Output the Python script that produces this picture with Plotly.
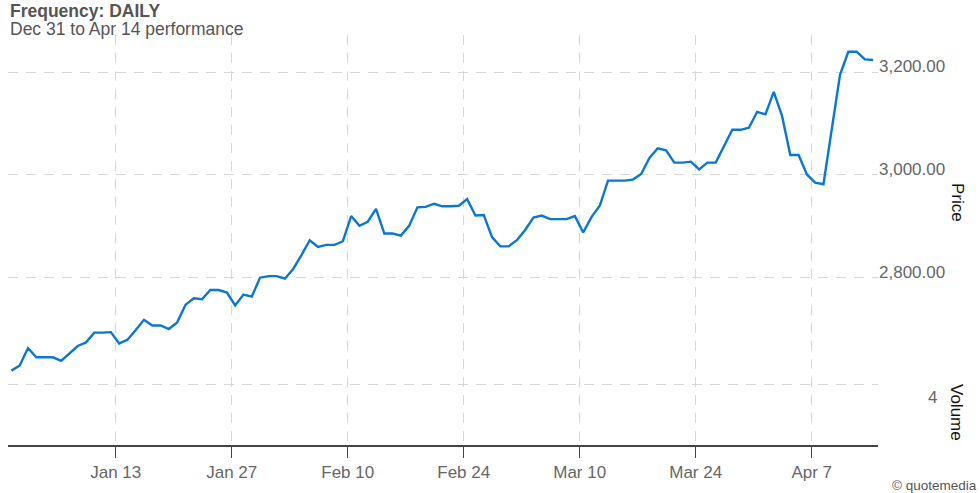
import pandas as pd
import plotly.graph_objects as go

start_date = "2024-12-31 10:00"
prices = [
    2619, 2629, 2663, 2645, 2645, 2645, 2638, 2653, 2667, 2674,
    2693, 2693, 2694, 2672, 2679, 2698, 2718, 2707, 2707, 2700,
    2713, 2747, 2760, 2758, 2776, 2776, 2771, 2746, 2767, 2763,
    2800, 2803, 2803, 2798, 2817, 2844, 2873, 2860, 2864, 2864,
    2871, 2920, 2901, 2909, 2934, 2886, 2886, 2882, 2901, 2937,
    2938, 2944, 2939, 2939, 2940, 2953, 2921, 2922, 2879, 2861,
    2861, 2873, 2893, 2917, 2921, 2914, 2914, 2914, 2920, 2888,
    2918, 2940, 2989, 2989, 2989, 2991, 3002, 3033, 3052, 3048,
    3024, 3024, 3026, 3011, 3024, 3024, 3056, 3088, 3088, 3092,
    3123, 3118, 3162, 3115, 3039, 3039, 3001, 2985, 2982, 3090,
    3195, 3240, 3240, 3225, 3224,
]
dates = pd.date_range(start_date, periods=len(prices), freq="D")

x_tick_dates = ["2025-01-13", "2025-01-27", "2025-02-10", "2025-02-24",
                "2025-03-10", "2025-03-24", "2025-04-07"]
x_tick_labels = ["Jan 13", "Jan 27", "Feb 10", "Feb 24", "Mar 10", "Mar 24", "Apr 7"]
price_ticks = [2800, 3000, 3200]
volume_ticks = [4]
volume_tick_labels = ["4"]

GRID = "#d6d6d6"
LABEL = "#666666"
FONT = "Liberation Sans, Arial, sans-serif"

fig = go.Figure()
fig.add_trace(go.Scatter(
    x=dates, y=prices, mode="lines",
    line=dict(color="#0a77d3", width=2.4),
    yaxis="y", showlegend=False, hoverinfo="x+y",
))
fig.add_trace(go.Scatter(x=[], y=[], yaxis="y2", showlegend=False))

fig.update_layout(
    width=980, height=493,
    margin=dict(l=8, r=102, t=35, b=48),
    plot_bgcolor="white", paper_bgcolor="white",
    font=dict(family=FONT, color=LABEL, size=17),
    showlegend=False,
    xaxis=dict(
        range=["2024-12-31", "2025-04-15"],
        tickvals=x_tick_dates, ticktext=x_tick_labels,
        showgrid=True, gridcolor=GRID, griddash="10px,8px", gridwidth=1.3,
        showline=True, linecolor="#444444", linewidth=1.5,
        ticks="outside", ticklen=11, tickcolor="#444444", tickwidth=1.3,
        tickfont=dict(size=17, color=LABEL),
        zeroline=False, fixedrange=True,
    ),
    yaxis=dict(
        range=[2474.2, 3272.6], side="right",
        tickvals=price_ticks, tickformat=",.2f",
        showgrid=True, gridcolor=GRID, griddash="10px,8px", gridwidth=1.3,
        showline=False, zeroline=False, ticks="",
        ticklabelshift=-6, ticklabelstandoff=0,
        tickfont=dict(size=17, color=LABEL),
    ),
    yaxis2=dict(
        overlaying="y", side="right", range=[0, 26.9],
        tickvals=volume_ticks, ticktext=volume_tick_labels,
        showgrid=True, gridcolor=GRID, griddash="10px,8px", gridwidth=1.3,
        showline=False, zeroline=False, ticks="",
        ticklabelshift=13, ticklabelstandoff=49,
        tickfont=dict(size=17, color=LABEL),
    ),
    annotations=[
        dict(text="<b>Frequency: DAILY</b>", xref="paper", yref="paper",
             x=0, y=1 + 24 / 410, xanchor="left", yanchor="middle",
             showarrow=False, font=dict(size=17.5, color="#555555")),
        dict(text="Dec 31 to Apr 14 performance", xref="paper", yref="paper",
             x=0, y=1 + 6 / 410, xanchor="left", yanchor="middle",
             showarrow=False, font=dict(size=17.5, color="#555555")),
        dict(text="Price", xref="paper", yref="paper",
             x=1 + 79 / 870, y=1 - 168 / 410, xanchor="center", yanchor="middle",
             textangle=90, showarrow=False, font=dict(size=17, color="#111111")),
        dict(text="Volume", xref="paper", yref="paper",
             x=1 + 79 / 870, y=1 - 378 / 410, xanchor="center", yanchor="middle",
             textangle=90, showarrow=False, font=dict(size=17, color="#111111")),
        dict(text="© quotemedia", xref="paper", yref="paper",
             x=1 + 101 / 870, y=-40 / 410, xanchor="right", yanchor="middle",
             showarrow=False, font=dict(size=13.5, color="#555555")),
    ],
)

fig.write_html("out.html", config={"displayModeBar": False},
               post_script="document.body.style.margin='0';")
